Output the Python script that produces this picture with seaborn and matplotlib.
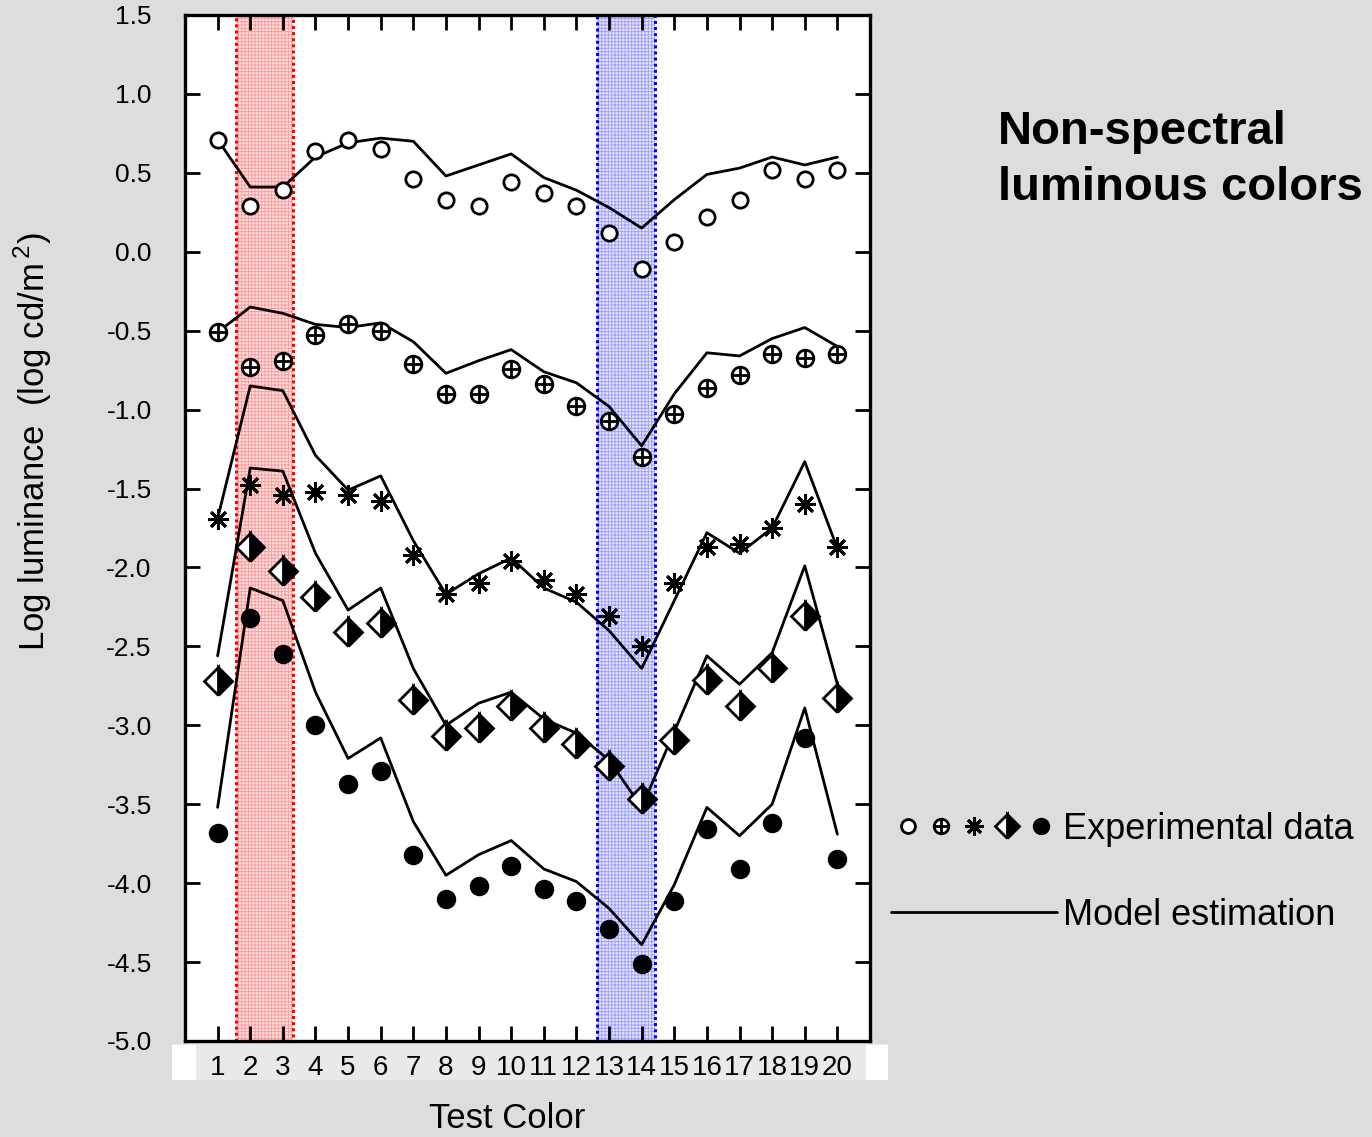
import matplotlib
matplotlib.use("Agg")
import matplotlib.pyplot as plt
import seaborn as sns
import pandas as pd
from matplotlib.lines import Line2D
from matplotlib.path import Path
from matplotlib.patches import Rectangle
from matplotlib.legend_handler import HandlerTuple

# ---------------- data ----------------
test_color = list(range(1, 21))
x_tick_labels = [str(i) for i in test_color]
y_ticks = [1.5, 1.0, 0.5, 0.0, -0.5, -1.0, -1.5, -2.0, -2.5, -3.0, -3.5, -4.0, -4.5, -5.0]
y_tick_labels = ["1.5", "1.0", "0.5", "0.0", "-0.5", "-1.0", "-1.5", "-2.0", "-2.5",
                 "-3.0", "-3.5", "-4.0", "-4.5", "-5.0"]

exp_open = [0.71, 0.29, 0.39, 0.64, 0.71, 0.65, 0.46, 0.33, 0.29, 0.44,
            0.37, 0.29, 0.12, -0.11, 0.06, 0.22, 0.33, 0.52, 0.46, 0.52]
model_1 = [0.71, 0.41, 0.41, 0.60, 0.69, 0.72, 0.70, 0.48, 0.55, 0.62,
           0.47, 0.39, 0.28, 0.15, 0.33, 0.49, 0.53, 0.60, 0.55, 0.60]

exp_plus = [-0.51, -0.73, -0.69, -0.53, -0.46, -0.50, -0.71, -0.90, -0.90, -0.74,
            -0.84, -0.98, -1.07, -1.30, -1.03, -0.86, -0.78, -0.65, -0.67, -0.65]
model_2 = [-0.51, -0.35, -0.39, -0.46, -0.48, -0.45, -0.57, -0.77, -0.69, -0.62,
           -0.76, -0.83, -0.98, -1.23, -0.90, -0.64, -0.66, -0.55, -0.48, -0.60]

exp_star = [-1.69, -1.48, -1.54, -1.52, -1.54, -1.58, -1.92, -2.17, -2.10, -1.96,
            -2.08, -2.17, -2.31, -2.50, -2.10, -1.87, -1.85, -1.75, -1.60, -1.87]
model_3 = [-1.69, -0.85, -0.88, -1.29, -1.51, -1.42, -1.83, -2.17, -2.04, -1.94,
           -2.13, -2.22, -2.40, -2.64, -2.21, -1.78, -1.91, -1.75, -1.33, -1.88]

exp_diamond = [-2.72, -1.87, -2.02, -2.19, -2.41, -2.35, -2.84, -3.07, -3.02, -2.88,
               -3.02, -3.12, -3.26, -3.47, -3.09, -2.71, -2.88, -2.64, -2.31, -2.83]
model_4 = [-2.56, -1.37, -1.39, -1.91, -2.27, -2.13, -2.64, -3.00, -2.86, -2.79,
           -2.96, -3.05, -3.22, -3.52, -3.04, -2.56, -2.74, -2.54, -1.99, -2.74]

exp_filled = [-3.68, -2.32, -2.55, -3.00, -3.37, -3.29, -3.82, -4.10, -4.02, -3.89,
              -4.04, -4.11, -4.29, -4.51, -4.11, -3.66, -3.91, -3.62, -3.08, -3.85]
model_5 = [-3.52, -2.13, -2.21, -2.79, -3.21, -3.08, -3.61, -3.95, -3.82, -3.73,
           -3.91, -3.99, -4.16, -4.39, -4.01, -3.52, -3.70, -3.50, -2.89, -3.69]

red_band = (1.57, 3.31)
blue_band = (12.62, 14.41)

# ---------------- style ----------------
sns.set_theme(style="ticks")
plt.rcParams["font.family"] = ["Liberation Sans", "DejaVu Sans"]
plt.rcParams["mathtext.fontset"] = "custom"
plt.rcParams["mathtext.rm"] = "Liberation Sans"
plt.rcParams["hatch.linewidth"] = 0.7
for key in ["text.color", "axes.labelcolor", "xtick.color", "ytick.color",
            "xtick.labelcolor", "ytick.labelcolor", "axes.edgecolor"]:
    plt.rcParams[key] = "black"

W, H = 1372, 1137
fig = plt.figure(figsize=(W / 100, H / 100), dpi=100, facecolor="#dddddd")

# light strip behind the x tick labels, with white end blocks
fig.patches.append(Rectangle((172 / W, 1 - 1080 / H), 716 / W, 36 / H,
                             transform=fig.transFigure, facecolor="#e9e9e9",
                             edgecolor="none", zorder=-2))
for x0, w0 in [(172, 24), (866, 22)]:
    fig.patches.append(Rectangle((x0 / W, 1 - 1080 / H), w0 / W, 35 / H,
                                 transform=fig.transFigure, facecolor="white",
                                 edgecolor="none", zorder=-1))

ax = fig.add_axes([185 / W, 1 - 1041 / H, 685 / W, 1026 / H])
ax.set_zorder(1)
ax.set_facecolor("white")

# shaded bands
for (lo, hi), fc, hc, ec in [(red_band, "#ffe6e6", "#ff9a9a", "red"),
                             (blue_band, "#e8e8ff", "#a0a0ff", "blue")]:
    ax.axvspan(lo, hi, facecolor=fc, edgecolor=hc, hatch="+++++", linewidth=0, zorder=0.5)
    ax.axvspan(lo, hi, facecolor="none", edgecolor=ec, linestyle=(0, (1, 1)),
               linewidth=2.2, zorder=0.6)

# custom circle-plus marker
circ_plus = Path.make_compound_path(
    Path.unit_circle(),
    Path([[-1, 0], [1, 0]], [Path.MOVETO, Path.LINETO]),
    Path([[0, -1], [0, 1]], [Path.MOVETO, Path.LINETO]),
)

marker_styles = [
    dict(marker="o", markersize=11, markerfacecolor="white"),
    dict(marker=circ_plus, markersize=12, markerfacecolor="white"),
    dict(marker=(8, 2, 0), markersize=15),
    dict(marker="D", markersize=14, fillstyle="right", markerfacecolor="black",
         markerfacecoloralt="white"),
    dict(marker="o", markersize=12, markerfacecolor="black"),
]
exp_series = [exp_open, exp_plus, exp_star, exp_diamond, exp_filled]
model_series = [model_1, model_2, model_3, model_4, model_5]

for exp_vals, mod_vals, mst in zip(exp_series, model_series, marker_styles):
    df = pd.DataFrame({"Test Color": test_color, "exp": exp_vals, "model": mod_vals})
    sns.lineplot(data=df, x="Test Color", y="model", ax=ax, color="black",
                 linewidth=2.0, errorbar=None, zorder=2)
    sns.lineplot(data=df, x="Test Color", y="exp", ax=ax, color="black",
                 linestyle="", markeredgecolor="black", markeredgewidth=2.0,
                 errorbar=None, zorder=3, **mst)

# axes
ax.set_xlim(0, 21)
ax.set_ylim(-5.0, 1.5)
ax.set_xticks(test_color)
ax.set_xticklabels(x_tick_labels)
ax.set_yticks(y_ticks)
ax.set_yticklabels(y_tick_labels)
ax.tick_params(axis="both", direction="in", length=11, width=2.0, color="black",
               labelcolor="black", top=True, right=True, labeltop=False, labelright=False)
ax.tick_params(axis="y", labelsize=19, pad=24)
ax.tick_params(axis="x", labelsize=20, pad=10)
for sp in ax.spines.values():
    sp.set_visible(True)
    sp.set_linewidth(2.4)
    sp.set_color("black")

ax.set_xlabel("Test Color", fontsize=25, color="black")
ax.xaxis.set_label_coords(0.47, -0.059)
ax.set_ylabel("Log luminance  (log cd/m$^{\\,2}$)", fontsize=25, color="black")
ax.yaxis.set_label_coords(-0.191, 0.584)

# title text
fig.text(998 / W, 1 - 110 / H, "Non-spectral\nluminous colors", fontsize=34,
         fontweight="bold", va="top", ha="left", linespacing=1.35, color="black")

# legend
h_open = Line2D([], [], ls="", marker="o", ms=10, mfc="white", mec="black", mew=2)
h_plus = Line2D([], [], ls="", marker=circ_plus, ms=10.5, mfc="white", mec="black", mew=2)
h_star = Line2D([], [], ls="", marker=(8, 2, 0), ms=13, mec="black", mew=2.2)
h_diam = Line2D([], [], ls="", marker="D", ms=12, fillstyle="right", mfc="black",
                mfcalt="white", mec="black", mew=2)
h_fill = Line2D([], [], ls="", marker="o", ms=10.5, mfc="black", mec="black", mew=2)
h_line = Line2D([], [], color="black", lw=2)
leg = fig.legend(handles=[(h_open, h_plus, h_star, h_diam, h_fill), h_line],
                 labels=["Experimental data", "Model estimation"],
                 handler_map={tuple: HandlerTuple(ndivide=None, pad=0)},
                 loc="upper left", bbox_to_anchor=(891 / W, 1 - 812 / H),
                 frameon=False, fontsize=26, handlelength=4.6, handletextpad=0.15,
                 labelspacing=1.4, borderpad=0, borderaxespad=0)
for t in leg.get_texts():
    t.set_color("black")

fig.savefig("out.png", dpi=100, facecolor=fig.get_facecolor())
